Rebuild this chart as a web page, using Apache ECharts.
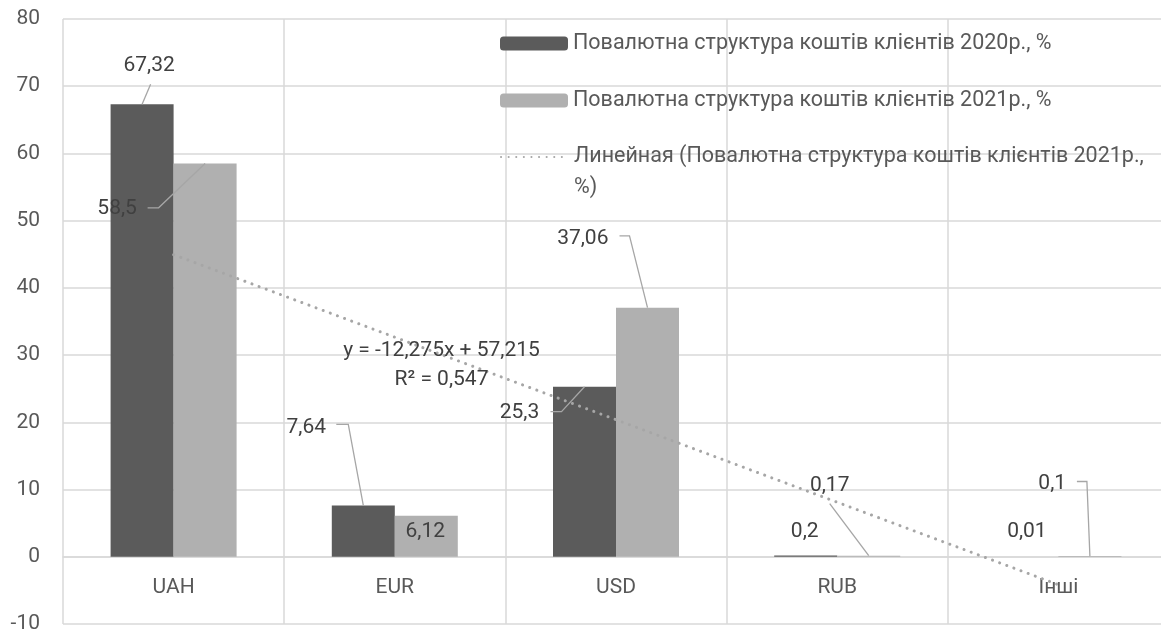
<!DOCTYPE html>
<html>
<head>
<meta charset="utf-8">
<title>Повалютна структура коштів клієнтів</title>
<script src="https://cdn.jsdelivr.net/npm/echarts@6/dist/echarts.min.js"></script>
<style>
  html, body { margin: 0; padding: 0; background: #fff; }
  #main { width: 1161px; height: 632px; }
</style>
</head>
<body>
<div id="main"></div>
<script>
// дані
const categories = ['UAH', 'EUR', 'USD', 'RUB', 'Інші'];
const values2020 = [67.32, 7.64, 25.3, 0.2, 0.01];
const values2021 = [58.5, 6.12, 37.06, 0.17, 0.1];
// лінійний тренд 2021р. - лише дві кінцеві точки (UAH та Інші)
const trendValues = [44.94, null, null, null, -4.16];
const trendText = ['y = -12,275x + 57,215', 'R² = 0,547'];
const yMin = -10, yMax = 80, yStep = 10;

const name2020 = 'Повалютна структура коштів клієнтів 2020р., %';
const name2021 = 'Повалютна структура коштів клієнтів 2021р., %';
const nameTrend = 'Линейная (Повалютна структура коштів клієнтів 2021р., %)';

const FONT = 'Roboto, "Noto Sans", sans-serif';
const TEXT = '#595959';
const LABEL = '#404040';
const GRID_LINE = '#d9d9d9';
const LEAD = '#a6a6a6';
const BAR_W = 63;

// зсув підпису від верхнього центру стовпця, lead - лінія-виноска
const place2020 = [
  {dx: 7, dy: -38, lead: [[8.5, -20], [0, 0]]},
  {dx: -57, dy: -78, lead: [[-27, -81], [-15, -81], [0, 0]]},
  {dx: -65, dy: 26, lead: [[-34, 25], [-23, 25], [0, 0]]},
  {dx: -1, dy: -24},
  {dx: 0, dy: -24.5}
];
const place2021 = [
  {dx: -88, dy: 45, lead: [[-57.5, 44.3], [-46.5, 44.3], [0, 0]]},
  {dx: -1, dy: 16.5},
  {dx: -64.7, dy: -69, lead: [[-28, -71.7], [-18, -71.7], [0, 0]]},
  {dx: -39, dy: -70, lead: [[-39, -52], [0, 0]]},
  {dx: -37.7, dy: -72.3, lead: [[-13, -74.6], [-3, -74.6], [0, 0]]}
];

function fmt(v) {
  return String(v).replace('.', ',');
}

// підписи даних з виносками (як в Excel)
function labelSeries(values, side, place) {
  return {
    type: 'custom',
    silent: true,
    z: 10,
    data: values.map(function (v, i) { return [i, v]; }),
    renderItem: function (params, api) {
      const i = params.dataIndex;
      const pt = api.coord([i, api.value(1)]);
      const x0 = pt[0] + side * BAR_W / 2;
      const y0 = pt[1];
      const p = place[i];
      const children = [];
      if (p.lead) {
        children.push({
          type: 'polyline',
          shape: {points: p.lead.map(function (q) { return [x0 + q[0], y0 + q[1]]; })},
          style: {stroke: LEAD, lineWidth: 1.3, fill: null}
        });
      }
      children.push({
        type: 'text',
        style: {
          text: fmt(api.value(1)),
          x: x0 + p.dx,
          y: y0 + p.dy,
          align: 'center',
          verticalAlign: 'middle',
          fill: LABEL,
          fontSize: 21,
          fontFamily: FONT
        }
      });
      return {type: 'group', children: children};
    }
  };
}

const legendBase = {
  orient: 'vertical',
  left: 500,
  padding: 0,
  itemWidth: 68,
  itemHeight: 14,
  itemGap: 0,
  selectedMode: false,
  textStyle: {color: TEXT, fontSize: 21.5, fontFamily: FONT, lineHeight: 31}
};

const myChart = echarts.init(document.getElementById('main'));

const option = {
  animation: false,
  backgroundColor: '#fff',
  grid: {left: 63, right: -8, top: 19, bottom: 8, outerBoundsMode: 'none', containLabel: false},
  legend: [
    Object.assign({}, legendBase, {data: [name2020], top: 28}),
    Object.assign({}, legendBase, {data: [name2021], top: 85}),
    Object.assign({}, legendBase, {
      data: [nameTrend],
      top: 110.5,
      itemStyle: {opacity: 0},
      // перший рядок тексту - на рівні значка, "%)" переноситься нижче
      formatter: function (n) { return ' \n' + n.replace(' %)', '\n%)'); }
    })
  ],
  xAxis: {
    type: 'category',
    data: categories,
    axisLine: {lineStyle: {color: GRID_LINE, width: 1.5}},
    axisTick: {show: false},
    // підписи категорій - трохи нижче нульової лінії
    axisLabel: {color: TEXT, fontSize: 21, fontFamily: FONT, margin: -47},
    splitLine: {show: true, interval: 0, lineStyle: {color: GRID_LINE, width: 1.5}}
  },
  yAxis: {
    type: 'value',
    min: yMin,
    max: yMax,
    interval: yStep,
    axisLine: {show: false},
    axisTick: {show: false},
    axisLabel: {color: TEXT, fontSize: 21, fontFamily: FONT, margin: 23},
    splitLine: {lineStyle: {color: GRID_LINE, width: 1.5}}
  },
  graphic: [{
    type: 'text',
    x: 441.5,
    y: 365,
    z: 20,
    silent: true,
    style: {
      text: trendText.join('\n'),
      align: 'center',
      verticalAlign: 'middle',
      lineHeight: 28.6,
      fill: LABEL,
      fontSize: 21,
      fontFamily: FONT
    }
  }],
  series: [
    {
      name: name2020,
      type: 'bar',
      data: values2020,
      barWidth: BAR_W,
      barGap: '0%',
      itemStyle: {color: '#5b5b5b'}
    },
    {
      name: name2021,
      type: 'bar',
      data: values2021,
      barWidth: BAR_W,
      barGap: '0%',
      itemStyle: {color: '#b0b0b0'}
    },
    {
      name: nameTrend,
      type: 'line',
      data: trendValues,
      connectNulls: true,
      symbol: 'none',
      silent: true,
      z: 5,
      itemStyle: {color: LEAD},
      lineStyle: {color: LEAD, width: 3, type: [0.1, 7.5], cap: 'round'}
    },
    labelSeries(values2020, -1, place2020),
    labelSeries(values2021, 1, place2021)
  ]
};

option && myChart.setOption(option);

window.addEventListener('resize', function () {
  myChart.resize();
});
</script>
</body>
</html>
